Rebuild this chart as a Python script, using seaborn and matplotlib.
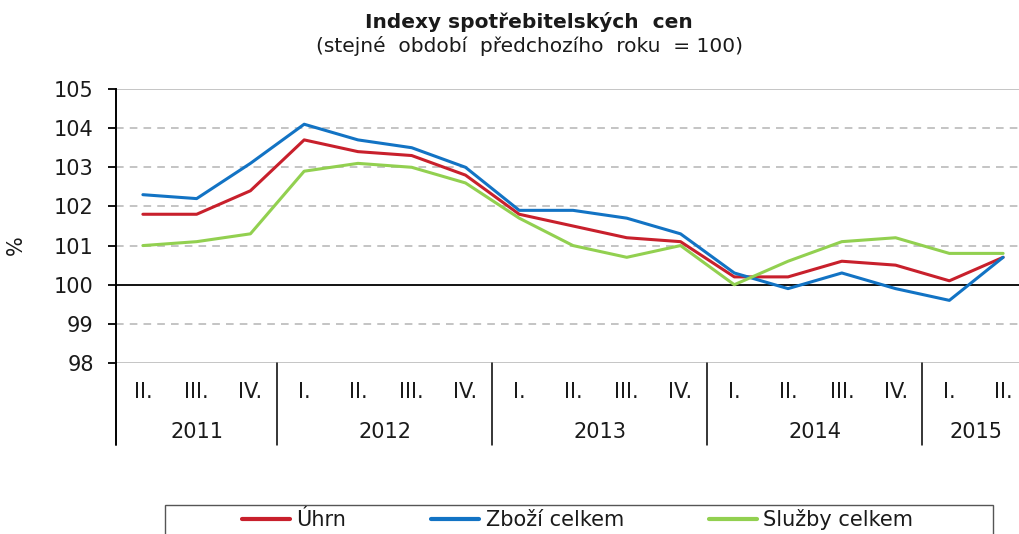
import matplotlib
matplotlib.use("Agg")
import matplotlib.pyplot as plt
import matplotlib.transforms as mtransforms
from matplotlib.patches import Rectangle
import seaborn as sns
import pandas as pd

# quarters II.2011 .. II.2015
quarters = ["II.", "III.", "IV.",
            "I.", "II.", "III.", "IV.",
            "I.", "II.", "III.", "IV.",
            "I.", "II.", "III.", "IV.",
            "I.", "II."]
years = ["2011", "2012", "2013", "2014", "2015"]
year_len = [3, 4, 4, 4, 2]

uhrn = [101.8, 101.8, 102.4,
        103.7, 103.4, 103.3, 102.8,
        101.8, 101.5, 101.2, 101.1,
        100.2, 100.2, 100.6, 100.5,
        100.1, 100.7]
zbozi = [102.3, 102.2, 103.1,
         104.1, 103.7, 103.5, 103.0,
         101.9, 101.9, 101.7, 101.3,
         100.3, 99.9, 100.3, 99.9,
         99.6, 100.7]
sluzby = [101.0, 101.1, 101.3,
          102.9, 103.1, 103.0, 102.6,
          101.7, 101.0, 100.7, 101.0,
          100.0, 100.6, 101.1, 101.2,
          100.8, 100.8]

series_names = ["Úhrn", "Zboží celkem", "Služby celkem"]
colors = ["#c8202c", "#1273c4", "#92d050"]

pos = list(range(len(quarters)))
df = pd.DataFrame({
    "pos": pos * 3,
    "value": uhrn + zbozi + sluzby,
    "series": [s for s in series_names for _ in pos],
})

sns.set_style("white")
plt.rcParams["font.family"] = ["DejaVu Sans"]
txt_col = "#1a1a1a"
fs = 15

fig = plt.figure(figsize=(10.19, 5.34), dpi=100)
ax = fig.add_axes([116 / 1019, 1 - 363 / 534, 914 / 1019, 274 / 534])

# grid
for v in [99, 101, 102, 103, 104]:
    ax.axhline(v, color="#b4b4b4", lw=1.1, ls=(0, (5, 4)), zorder=0)
ax.axhline(105, color="#c0c0c0", lw=1.3, zorder=0)
ax.axhline(98, color="#c0c0c0", lw=1.3, zorder=0)
ax.axhline(100, color="black", lw=1.3, zorder=1)

sns.lineplot(data=df, x="pos", y="value", hue="series", palette=colors,
             hue_order=series_names, lw=2.2, ax=ax, legend=False, zorder=3)

ax.set_xlim(-0.5, len(quarters) - 0.5)
ax.set_ylim(98, 105)
ax.set_yticks(range(98, 106))
ax.tick_params(axis="y", labelsize=fs, length=6, width=1.3, color="black",
               pad=10, left=True, labelcolor=txt_col)
ax.set_xticks(pos)
ax.set_xticklabels(quarters, fontsize=fs, color=txt_col)
ax.tick_params(axis="x", length=0, pad=14)
ax.set_xlabel("")
ax.set_ylabel("%", fontsize=fs, color=txt_col)
ax.yaxis.set_label_coords(-90 / 914, 118 / 274)

for s in ["top", "right", "bottom"]:
    ax.spines[s].set_visible(False)
ax.spines["left"].set_color("black")
ax.spines["left"].set_linewidth(1.4)

# year separators and labels below the axis
tr = mtransforms.blended_transform_factory(ax.transData, ax.transAxes)
drop = -82 / 274
ax.plot([-0.5, -0.5], [0, drop], color="black", lw=1.4, transform=tr,
        clip_on=False)
start = -0.5
for yr, n in zip(years, year_len):
    end = start + n
    ax.plot([end, end], [0, drop], color="black", lw=1.1, transform=tr,
            clip_on=False)
    ax.text((start + end) / 2, -69 / 274, yr, fontsize=fs, ha="center",
            va="center", transform=tr, color=txt_col)
    start = end

# title
fig.text(529 / 1019, 1 - 22 / 534, "Indexy spotřebitelských  cen", fontsize=14.5,
         fontweight="bold", ha="center", va="center", color=txt_col)
fig.text(530 / 1019, 1 - 46 / 534, "(stejné  období  předchozího  roku  = 100)",
         fontsize=14.5, ha="center", va="center", color=txt_col)

# legend (box runs past the bottom edge as in the original)
fig.patches.append(Rectangle((165 / 1019, 1 - 545 / 534), 828 / 1019, 40 / 534,
                             transform=fig.transFigure, fill=False,
                             edgecolor="#555555", lw=1.0))
handles = [plt.Line2D([], [], color=c, lw=3) for c in colors]
leg = fig.legend(handles, series_names, loc="upper left",
                 bbox_to_anchor=(242 / 1019, 1 - 509 / 534), ncol=3,
                 fontsize=fs, frameon=False, handlelength=2.3,
                 handletextpad=0.3, columnspacing=4.1, borderpad=0,
                 borderaxespad=0)
for t in leg.get_texts():
    t.set_color(txt_col)

fig.savefig("out.png", dpi=100)
